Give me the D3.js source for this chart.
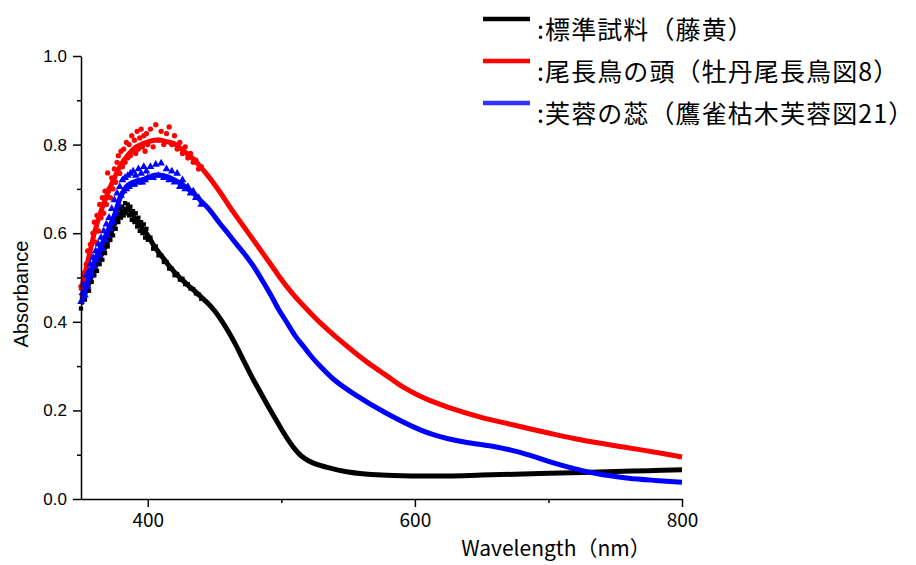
<!DOCTYPE html>
<html><head><meta charset="utf-8">
<script src="https://cdn.jsdelivr.net/npm/d3@7"></script>
<style>body{margin:0;background:#fff}svg{display:block}</style>
</head><body>
<svg id="c" width="916" height="565"></svg>
<script>
// ---- data ----
const xMajor = [400, 600, 800];
const xMinor = [500, 700];
const yMajor = [0, 0.2, 0.4, 0.6, 0.8, 1.0];
const yMinor = [0.1, 0.3, 0.5, 0.7, 0.9];

const seriesNames = [":標準試料（藤黄）", ":尾長鳥の頭（牡丹尾長鳥図8）", ":芙蓉の蕊（鷹雀枯木芙蓉図21）"];
const seriesColors = ["#000000", "#ff0000", "#0000ff"];
const legendColors = ["#000000", "#ff0000", "#3333ff"];

const blackWl  = [350,355,360,365,370,375,380,385,390,395,400,405,410,415,420,425,430,435,440,445,450,455,460,465,470,475,480,485,490,495,500,505,510,515,520,525,535,550,575,600,625,650,675,700,725,750,775,800];
const blackAbs = [0.44,0.48,0.52,0.55,0.58,0.62,0.645,0.655,0.635,0.615,0.595,0.57,0.55,0.53,0.512,0.497,0.483,0.47,0.456,0.442,0.425,0.404,0.38,0.353,0.323,0.293,0.264,0.237,0.21,0.184,0.158,0.134,0.113,0.097,0.087,0.08,0.071,0.061,0.054,0.052,0.052,0.054,0.056,0.058,0.06,0.062,0.064,0.066];

const redWl  = [350,355,360,365,370,375,380,385,390,395,400,405,410,415,420,425,430,435,440,445,454,464,479,492,498,504,510,517,523,529,540,554,566,579,591,604,615,625,649,674,700,725,755,775,800];
const redAbs = [0.47,0.535,0.6,0.65,0.69,0.725,0.755,0.776,0.792,0.8,0.806,0.81,0.81,0.806,0.802,0.79,0.778,0.765,0.748,0.73,0.693,0.648,0.585,0.53,0.504,0.48,0.458,0.435,0.416,0.398,0.368,0.333,0.305,0.278,0.253,0.232,0.218,0.207,0.185,0.167,0.149,0.133,0.118,0.108,0.095];

const blueWl  = [350,355,360,365,370,375,380,385,390,395,400,405,410,415,420,425,430,435,440,445,454,460,467,473,479,486,492,498,504,510,517,523,529,540,554,579,604,615,625,640,660,675,690,700,715,730,745,760,780,800];
const blueAbs = [0.44,0.49,0.535,0.57,0.605,0.64,0.685,0.708,0.716,0.72,0.725,0.731,0.731,0.727,0.72,0.712,0.7,0.688,0.672,0.657,0.622,0.6,0.573,0.551,0.526,0.492,0.461,0.428,0.399,0.37,0.343,0.32,0.3,0.268,0.238,0.193,0.156,0.144,0.136,0.127,0.118,0.108,0.095,0.085,0.072,0.061,0.053,0.047,0.042,0.038];

// noisy measured points in the short-wavelength region
const noiseWl = [350,351,352,353,354,355,356,357,358,359,360,361,362,363,364,365,366,367,368,369,370,371,372,373,374,375,376,377,378,379,380,381,382,383,384,385,386,387,388,389,390,391,392,393,394,395,396,397,398,399,400,402,404,406,408,410,412,414,416,418,420,422,424,426,428,430,432,434,436,438,440];
const blackPts = [0.43,0.455,0.465,0.45,0.48,0.495,0.47,0.51,0.49,0.525,0.505,0.535,0.515,0.55,0.53,0.565,0.54,0.58,0.555,0.59,0.57,0.605,0.585,0.615,0.595,0.63,0.61,0.645,0.625,0.655,0.635,0.66,0.64,0.668,0.645,0.665,0.64,0.66,0.63,0.65,0.625,0.645,0.615,0.635,0.605,0.625,0.6,0.62,0.59,0.61,0.585,0.59,0.565,0.57,0.55,0.55,0.535,0.535,0.52,0.52,0.505,0.508,0.495,0.497,0.485,0.485,0.475,0.474,0.464,0.462,0.452];
const redPts = [0.48,0.455,0.51,0.48,0.53,0.56,0.515,0.575,0.545,0.6,0.625,0.58,0.64,0.605,0.665,0.635,0.68,0.645,0.695,0.665,0.736,0.7,0.68,0.725,0.7,0.745,0.715,0.76,0.775,0.735,0.785,0.75,0.79,0.76,0.805,0.77,0.8,0.775,0.82,0.785,0.81,0.78,0.83,0.79,0.815,0.835,0.795,0.82,0.785,0.825,0.8,0.835,0.795,0.845,0.81,0.83,0.8,0.825,0.84,0.8,0.82,0.79,0.805,0.78,0.795,0.77,0.78,0.76,0.765,0.745,0.75];
const bluePts = [0.445,0.465,0.485,0.46,0.505,0.48,0.515,0.53,0.505,0.545,0.525,0.56,0.54,0.575,0.55,0.59,0.565,0.605,0.585,0.62,0.595,0.635,0.61,0.655,0.625,0.675,0.645,0.69,0.665,0.705,0.685,0.72,0.695,0.725,0.7,0.73,0.705,0.735,0.71,0.74,0.71,0.73,0.715,0.745,0.715,0.735,0.715,0.75,0.72,0.74,0.725,0.75,0.725,0.755,0.73,0.758,0.725,0.745,0.72,0.74,0.715,0.735,0.705,0.72,0.7,0.705,0.69,0.695,0.68,0.68,0.665];

// ---- drawing ----
const svg = d3.select("#c");
const x = d3.scaleLinear().domain([350, 800]).range([81, 682]);
const y = d3.scaleLinear().domain([0, 1]).range([499, 56]);

const narrow = "'Liberation Sans Narrow','Noto Sans CJK JP',sans-serif";

const lineGen = d3.line().x(d => x(d[0])).y(d => y(d[1])).curve(d3.curveCatmullRom.alpha(0.5));
const lines = [d3.zip(blackWl, blackAbs), d3.zip(redWl, redAbs), d3.zip(blueWl, blueAbs)];
const pts = [d3.zip(noiseWl, blackPts), d3.zip(noiseWl, redPts), d3.zip(noiseWl, bluePts)];
const symbols = [d3.symbolSquare, d3.symbolCircle, d3.symbolTriangle];
const symSizes = [18, 22, 26];

lines.forEach((data, i) => {
  const g = svg.append("g");
  g.append("path").datum(data)
    .attr("d", lineGen).attr("fill", "none")
    .attr("stroke", seriesColors[i]).attr("stroke-width", 5)
    .attr("stroke-linejoin", "round");
  g.selectAll("path.pt").data(pts[i]).join("path").attr("class", "pt")
    .attr("d", d3.symbol().type(symbols[i]).size(symSizes[i]))
    .attr("transform", d => `translate(${x(d[0])},${y(d[1])})`)
    .attr("fill", seriesColors[i]);
});

// axes
const xAxis = svg.append("g").attr("transform", "translate(0,499)")
  .call(d3.axisBottom(x).tickValues(xMajor).tickSize(8).tickSizeOuter(0).tickPadding(7).tickFormat(d3.format("d")));
svg.append("g").attr("transform", "translate(0,499)")
  .call(d3.axisBottom(x).tickValues(xMinor).tickSize(4).tickSizeOuter(0).tickFormat(""))
  .select(".domain").remove();
const yAxis = svg.append("g").attr("transform", "translate(81,0)")
  .call(d3.axisLeft(y).tickValues(yMajor).tickSize(8).tickSizeOuter(0).tickPadding(6).tickFormat(d3.format(".1f")));
svg.append("g").attr("transform", "translate(81,0)")
  .call(d3.axisLeft(y).tickValues(yMinor).tickSize(4).tickSizeOuter(0).tickFormat(""))
  .select(".domain").remove();

svg.selectAll(".domain, .tick line").attr("stroke", "#000").attr("stroke-width", 1.5);
xAxis.selectAll("text").attr("font-family", narrow).attr("font-size", 19).attr("fill", "#000");
yAxis.selectAll("text").attr("font-family", "'Liberation Sans',Arial,sans-serif").attr("font-size", 17).attr("fill", "#000");

// axis titles
svg.append("text").attr("transform", "translate(28,294) rotate(-90)")
  .attr("text-anchor", "middle").attr("font-family", "'Liberation Sans',Arial,sans-serif")
  .attr("font-size", 20).text("Absorbance");
svg.append("text").attr("x", 556).attr("y", 556)
  .attr("text-anchor", "middle").attr("font-family", narrow)
  .attr("font-size", 21).text("Wavelength（nm）");

// legend
const legendBase = [39, 81, 123];
seriesNames.forEach((name, i) => {
  svg.append("line").attr("x1", 483).attr("x2", 530)
    .attr("y1", legendBase[i] - 20).attr("y2", legendBase[i] - 20)
    .attr("stroke", legendColors[i]).attr("stroke-width", 4.5);
  svg.append("text").attr("x", 537).attr("y", legendBase[i])
    .attr("font-family", "'Noto Sans CJK JP',sans-serif").attr("font-size", 25)
    .attr("letter-spacing", 1.1)
    .attr("fill", "#000").text(name);
});
</script>
</body></html>
